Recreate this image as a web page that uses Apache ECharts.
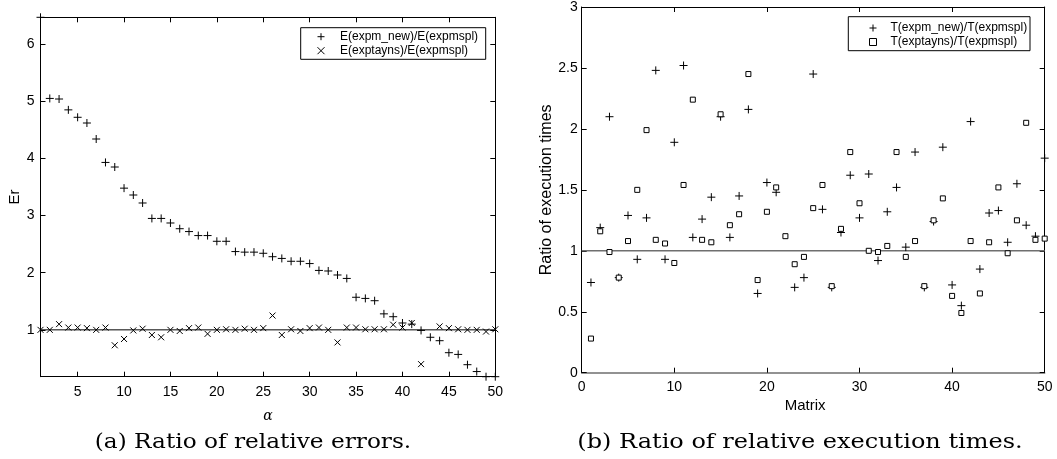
<!DOCTYPE html>
<html>
<head>
<meta charset="utf-8">
<script src="https://cdn.jsdelivr.net/npm/echarts@6/dist/echarts.min.js"></script>
<style>
html,body{margin:0;padding:0;background:#fff;}
#c{width:1057px;height:459px;}
</style>
</head>
<body>
<div id="c"></div>
<script>
// ---- data: (a) ratio of relative errors ----
const alphaIdx = [1,2,3,4,5,6,7,8,9,10,11,12,13,14,15,16,17,18,19,20,21,22,23,24,25,26,27,28,29,30,31,32,33,34,35,36,37,38,39,40,41,42,43,44,45,46,47,48,49,50];
const errNew = [6.47,5.05,5.04,4.85,4.72,4.62,4.34,3.93,3.85,3.48,
                3.36,3.22,2.95,2.95,2.87,2.77,2.72,2.65,2.65,2.55,
                2.55,2.37,2.36,2.36,2.34,2.28,2.25,2.20,2.20,2.16,
                2.04,2.03,1.96,1.90,1.57,1.55,1.51,1.28,1.23,1.12,
                1.10,0.99,0.87,0.81,0.60,0.57,0.39,0.27,0.18,0.18];
const errTay = [1.00,1.00,1.10,1.04,1.04,1.03,1.00,1.04,0.73,0.84,
                0.99,1.02,0.91,0.87,1.00,0.98,1.03,1.04,0.93,1.00,
                1.01,1.00,1.02,1.00,1.03,1.25,0.91,1.01,0.98,1.03,
                1.04,1.00,0.78,1.04,1.04,1.01,1.01,1.01,1.09,1.04,
                1.12,0.40,null,1.06,1.03,1.01,1.00,1.00,0.97,1.01];
const errRefX = [1,50];
const errRefY = [1,1];
const errXTicks = [5,10,15,20,25,30,35,40,45,50];
const errYTicks = [1,2,3,4,5,6];
const errYMin = 0.18, errYMax = 6.47;

// ---- data: (b) ratio of execution times ----
const matrixIdx = alphaIdx;
const timeNew = [0.74,1.19,2.10,0.78,1.29,0.93,1.27,2.48,0.93,1.89,
                 2.52,1.11,1.26,1.44,2.10,1.11,1.45,2.16,0.65,1.56,
                 1.48,null,0.70,0.78,2.45,1.34,0.70,1.15,1.62,1.27,
                 1.63,0.92,1.32,1.52,1.03,1.81,0.70,1.24,1.85,0.72,
                 0.55,2.06,0.85,1.31,1.33,1.07,1.55,1.21,1.12,1.76];
const timeTay = [0.28,1.16,0.99,0.78,1.08,1.50,1.99,1.09,1.06,0.90,
                 1.54,2.24,1.09,1.07,2.12,1.21,1.30,2.45,0.76,1.32,
                 1.52,1.12,0.89,0.95,1.35,1.54,0.71,1.18,1.81,1.39,
                 1.00,0.99,1.04,1.81,0.95,1.08,0.71,1.25,1.43,0.63,
                 0.49,1.08,0.65,1.07,1.52,0.98,1.25,2.05,1.09,1.10];
const timeRefX = [0,50];
const timeRefY = [1,1];
const timeXTicks = [0,10,20,30,40,50];
const timeYTicks = [0,0.5,1,1.5,2,2.5,3];

const pairs = (xs, ys) => xs.map((x,i)=>[x, ys[i]]).filter(p => p[1] !== null);

const SANS = 'Liberation Sans';
const PLUS = 'path://M0,5L10,5M5,0L5,10';
const CROSS = 'path://M0,0L10,10M10,0L0,10';
const SQUARE = 'path://M0,0L10,0L10,10L0,10Z';

const chart = echarts.init(document.getElementById('c'), null, {renderer:'canvas'});

function boxAxes(gridIdx, xmin, xmax, xticks, ymin, ymax, yticks, xName, yName, opts) {
  const tick = {show:true, inside:true, length:5, lineStyle:{color:'#000', width:1}};
  const lbl = {color:'#000', fontFamily:SANS, fontSize:14};
  const xa = [
    {gridIndex:gridIdx, type:'value', position:'bottom', min:xmin, max:xmax,
     axisLine:{show:true, onZero:false, lineStyle:{color:opts.bottomColor||'#000', width:opts.bottomWidth||1}},
     axisTick:Object.assign({}, tick, {customValues:xticks}),
     axisLabel:Object.assign({}, lbl, {customValues:xticks, margin:opts.xLabelMargin}),
     splitLine:{show:false},
     name:xName, nameLocation:'middle', nameGap:opts.xNameGap, nameTextStyle:opts.xNameStyle},
    {gridIndex:gridIdx, type:'value', position:'top', min:xmin, max:xmax,
     axisLine:{show:true, onZero:false, lineStyle:{color:'#000', width:1}},
     axisTick:Object.assign({}, tick, {customValues:xticks}),
     axisLabel:{show:false}, splitLine:{show:false}}
  ];
  const ya = [
    {gridIndex:gridIdx, type:'value', position:'left', min:ymin, max:ymax,
     axisLine:{show:true, onZero:false, lineStyle:{color:'#000', width:1}},
     axisTick:Object.assign({}, tick, {customValues:yticks}),
     axisLabel:Object.assign({}, lbl, {customValues:yticks, margin:opts.yLabelMargin}),
     splitLine:{show:false},
     name:yName, nameLocation:'middle', nameGap:opts.yNameGap, nameTextStyle:opts.yNameStyle},
    {gridIndex:gridIdx, type:'value', position:'right', min:ymin, max:ymax,
     axisLine:{show:true, onZero:false, lineStyle:{color:'#000', width:1}},
     axisTick:Object.assign({}, tick, {customValues:yticks}),
     axisLabel:{show:false}, splitLine:{show:false}}
  ];
  return {xa, ya};
}

const A = boxAxes(0, 1, 50, errXTicks, errYMin, errYMax, errYTicks, 'α', 'Er', {
  xLabelMargin:8, yLabelMargin:6, xNameGap:33, yNameGap:18,
  xNameStyle:{fontFamily:'DejaVu Serif', fontStyle:'italic', fontSize:14, color:'#000'},
  yNameStyle:{fontFamily:SANS, fontSize:15, color:'#000'}
});
const B = boxAxes(1, 0, 50, timeXTicks, 0, 3, timeYTicks, 'Matrix', 'Ratio of execution times', {
  xLabelMargin:7, yLabelMargin:4, xNameGap:24, yNameGap:27,
  bottomColor:'#6f6f6f', bottomWidth:1.5,
  xNameStyle:{fontFamily:SANS, fontSize:15, color:'#000', padding:[0,16,0,0]},
  yNameStyle:{fontFamily:SANS, fontSize:16, color:'#000'}
});

const scatterBase = {type:'scatter', clip:false, symbolKeepAspect:true,
  itemStyle:{color:'#000', borderColor:'#000', borderWidth:1, opacity:1}};

const legendItem = (name, icon, fill) => ({name, icon,
  itemStyle:{color:fill, borderColor:'#000', borderWidth:1}});

const option = {
  backgroundColor:'#fff',
  animation:false,
  grid:[
    {left:40.5, top:17.3, width:454.8, height:359.4},
    {left:581.7, top:6.7, width:463, height:366}
  ],
  xAxis:[...A.xa, ...B.xa.map(a=>Object.assign(a,{gridIndex:1}))],
  yAxis:[...A.ya, ...B.ya.map(a=>Object.assign(a,{gridIndex:1}))],
  legend:[
    {data:[legendItem('E(expm_new)/E(expmspl)', PLUS, '#000'), legendItem('E(exptayns)/E(expmspl)', CROSS, '#000')],
     orient:'vertical', left:317, top:29.7, itemWidth:28, itemHeight:7, itemGap:0,
     padding:0, borderWidth:0, z:5,
     textStyle:{fontFamily:SANS, fontSize:12, color:'#000', lineHeight:14}},
    {data:[legendItem('T(expm_new)/T(expmspl)', PLUS, '#000'), legendItem('T(exptayns)/T(expmspl)', SQUARE, '#fff')],
     orient:'vertical', left:869, top:21, itemWidth:25, itemHeight:7, itemGap:0,
     padding:0, borderWidth:0, z:5,
     textStyle:{fontFamily:SANS, fontSize:12, color:'#000', lineHeight:14}}
  ],
  series:[
    {type:'line', xAxisIndex:0, yAxisIndex:0, data:pairs(errRefX, errRefY), symbol:'none',
     lineStyle:{color:'#000', width:1}, silent:true, z:1},
    Object.assign({}, scatterBase, {name:'E(expm_new)/E(expmspl)', xAxisIndex:0, yAxisIndex:0,
     symbol:PLUS, symbolSize:8, data:pairs(alphaIdx, errNew)}),
    Object.assign({}, scatterBase, {name:'E(exptayns)/E(expmspl)', xAxisIndex:0, yAxisIndex:0,
     symbol:CROSS, symbolSize:6, data:pairs(alphaIdx, errTay)}),
    {type:'line', xAxisIndex:2, yAxisIndex:2, data:pairs(timeRefX, timeRefY), symbol:'none',
     lineStyle:{color:'#6f6f6f', width:1.5}, silent:true, z:1},
    Object.assign({}, scatterBase, {name:'T(expm_new)/T(expmspl)', xAxisIndex:2, yAxisIndex:2,
     symbol:PLUS, symbolSize:8, data:pairs(matrixIdx, timeNew)}),
    Object.assign({}, scatterBase, {name:'T(exptayns)/T(expmspl)', xAxisIndex:2, yAxisIndex:2,
     symbol:SQUARE, symbolSize:5,
     itemStyle:{color:'#fff', borderColor:'#000', borderWidth:1, opacity:1},
     data:pairs(matrixIdx, timeTay)})
  ],
  graphic:[
    {type:'rect', z:4, shape:{x:300.7, y:27.7, width:185, height:31.6},
     style:{fill:'#fff', stroke:'#000', lineWidth:1}},
    {type:'rect', z:4, shape:{x:848.3, y:16.7, width:181.7, height:34},
     style:{fill:'#fff', stroke:'#000', lineWidth:1}},
    {type:'text', x:253, y:443, scaleX:1.16, style:{text:'(a) Ratio of relative errors.', fontFamily:'DejaVu Serif', fontSize:20, fill:'#000', align:'center', verticalAlign:'middle'}},
    {type:'text', x:800, y:443, scaleX:1.2, style:{text:'(b) Ratio of relative execution times.', fontFamily:'DejaVu Serif', fontSize:20, fill:'#000', align:'center', verticalAlign:'middle'}}
  ]
};
chart.setOption(option);
</script>
</body>
</html>
